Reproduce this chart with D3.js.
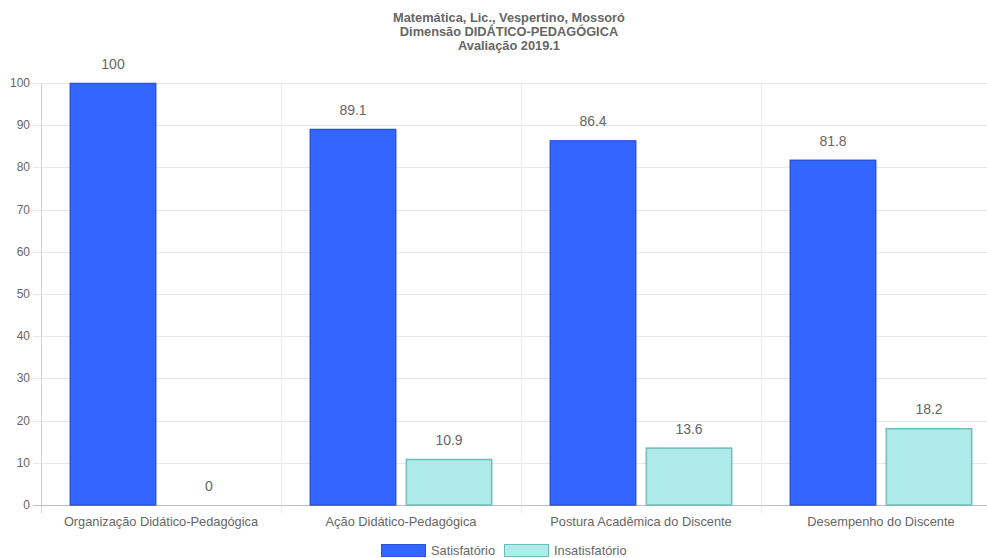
<!DOCTYPE html>
<html><head><meta charset="utf-8">
<script src="https://cdn.jsdelivr.net/npm/d3@7"></script>
<style>body{margin:0;background:#fff}svg{display:block}text{font-family:"Liberation Sans",Arial,sans-serif;fill:#666}</style>
</head><body><svg id="c" width="987" height="558"></svg>
<script>
const titleLines = ["Matemática, Lic., Vespertino, Mossoró", "Dimensão DIDÁTICO-PEDAGÓGICA", "Avaliação 2019.1"];
const categories = ["Organização Didático-Pedagógica", "Ação Didático-Pedagógica", "Postura Acadêmica do Discente", "Desempenho do Discente"];
const seriesNames = ["Satisfatório", "Insatisfatório"];
const satisfatorio = [100, 89.1, 86.4, 81.8];
const insatisfatorio = [0, 10.9, 13.6, 18.2];
const yTicks = [0, 10, 20, 30, 40, 50, 60, 70, 80, 90, 100];
const fills = ["#3366ff", "#aeeae9"];
const strokes = ["#2b55d6", "#6dbdb9"];

const svg = d3.select("#c");
const L = 41, R = 1001, T = 83, B = 505;
const x = d3.scaleBand().domain(categories).range([L, R]).paddingInner(0).paddingOuter(0);
const y = d3.scaleLinear().domain([0, 100]).range([B, T]);
const inner = d3.scaleBand().domain(seriesNames).range([0, x.bandwidth() * 0.8]);
const barW = inner.bandwidth() * 0.9;
const off = x.bandwidth() * 0.1;

// title
svg.append("g").selectAll("text").data(titleLines).join("text")
  .attr("x", 509).attr("y", (d, i) => 21.5 + i * 14).attr("text-anchor", "middle")
  .style("font-size", "12.8px").style("font-weight", "bold").text(d => d);

// horizontal grid
const g = svg.append("g");
g.selectAll("line.h").data(yTicks).join("line")
  .attr("x1", L - 8).attr("x2", 987).attr("y1", d => Math.round(y(d)) + 0.5).attr("y2", d => Math.round(y(d)) + 0.5)
  .attr("stroke", d => d === 0 ? "#bdbdbd" : "#e8e8e8").attr("stroke-width", 1);
// vertical grid
const vx = categories.map(c => x(c)).concat([R]);
g.selectAll("line.v").data(vx).join("line")
  .attr("x1", d => Math.round(d) + 0.5).attr("x2", d => Math.round(d) + 0.5)
  .attr("y1", T).attr("y2", B + 8)
  .attr("stroke", (d, i) => i === 0 ? "#d0d0d0" : "#ebebeb");
// x axis line
g.append("line").attr("x1", L).attr("x2", 987).attr("y1", B + 0.5).attr("y2", B + 0.5).attr("stroke", "#bdbdbd");

// y labels
svg.append("g").selectAll("text").data(yTicks).join("text")
  .attr("x", 30).attr("y", d => y(d) + 4).attr("text-anchor", "end")
  .style("font-size", "12px").text(d => d);

// x labels
svg.append("g").selectAll("text").data(categories).join("text")
  .attr("x", d => x(d) + x.bandwidth() / 2).attr("y", 525.5).attr("text-anchor", "middle")
  .style("font-size", "12.8px").text(d => d);

// bars
const series = [satisfatorio, insatisfatorio];
series.forEach((vals, si) => {
  const bx = (i) => x(categories[i]) + off + inner(seriesNames[si]) + (inner.bandwidth() - barW) / 2;
  const gg = svg.append("g");
  gg.selectAll("rect").data(vals).join("rect")
    .attr("x", (d, i) => bx(i) + 0.5).attr("y", d => y(d) + 0.5)
    .attr("width", barW - 1).attr("height", d => Math.max(0, B - y(d) - 0.5))
    .attr("fill", fills[si]).attr("stroke", strokes[si]).attr("stroke-width", d => d === 0 ? 0 : 1.5);
  gg.selectAll("text").data(vals).join("text")
    .attr("x", (d, i) => bx(i) + barW / 2).attr("y", d => y(d) - 14)
    .attr("text-anchor", "middle").style("font-size", "14px").text(d => d);
});

// legend
const leg = svg.append("g");
const legItems = [{x: 381, name: seriesNames[0], i: 0}, {x: 504, name: seriesNames[1], i: 1}];
legItems.forEach(it => {
  leg.append("rect").attr("x", it.x + 0.5).attr("y", 544.5).attr("width", 44).attr("height", 12)
    .attr("fill", fills[it.i]).attr("stroke", strokes[it.i]).attr("stroke-width", 1);
  leg.append("text").attr("x", it.x + 50).attr("y", 555).style("font-size", "12.8px").text(it.name);
});
</script></body></html>
